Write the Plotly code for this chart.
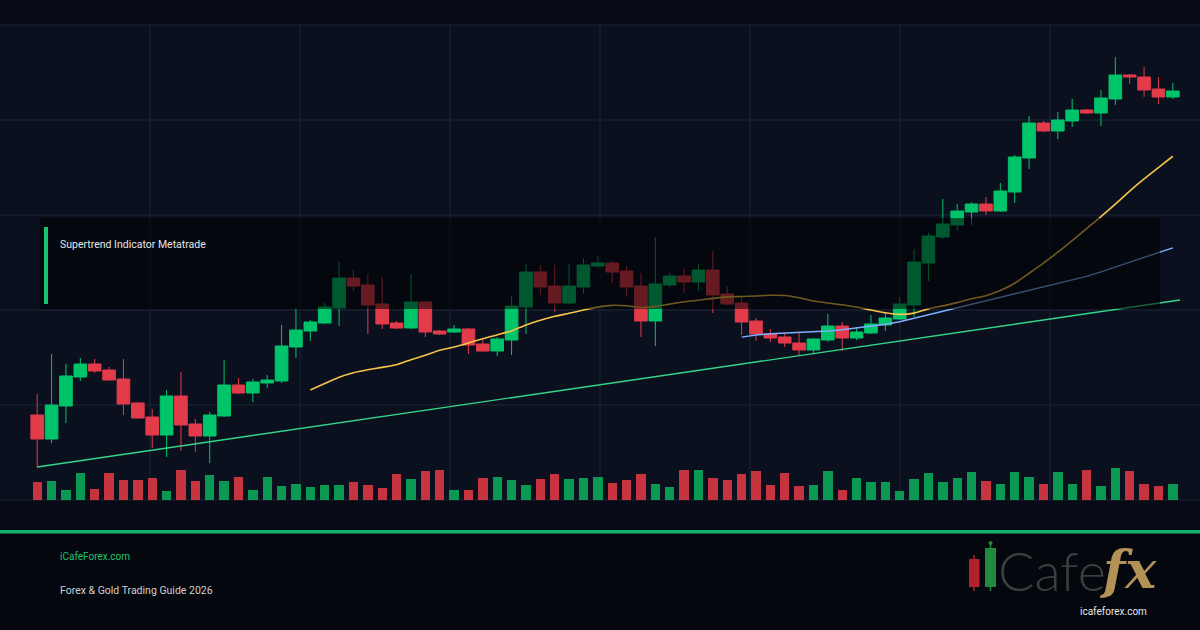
import plotly.graph_objects as go
import pandas as pd

# ---------------- data ----------------
idx = list(range(80))
open_ = [2085, 2061, 2094, 2123, 2136, 2130, 2121, 2097, 2083, 2065, 2104, 2076, 2064, 2084, 2115, 2107,
         2117, 2119, 2153, 2169, 2177, 2192, 2222, 2215, 2196, 2177, 2172, 2198, 2169, 2168, 2171, 2156,
         2149, 2160, 2193, 2228, 2214, 2197, 2213, 2234, 2237, 2229, 2214, 2179, 2215, 2224, 2218, 2230,
         2206, 2197, 2179, 2166, 2163, 2157, 2150, 2160, 2174, 2162, 2167, 2175, 2181, 2195, 2237, 2263,
         2275, 2288, 2296, 2289, 2308, 2342, 2377, 2369, 2379, 2390, 2387, 2401, 2425, 2423, 2411, 2403]
high = [2106, 2146, 2136, 2142, 2141, 2133, 2141, 2098, 2091, 2110, 2128, 2081, 2088, 2140, 2122, 2121,
        2125, 2175, 2191, 2180, 2197, 2238, 2230, 2226, 2223, 2179, 2226, 2199, 2170, 2175, 2172, 2161,
        2163, 2204, 2236, 2235, 2235, 2236, 2242, 2244, 2239, 2234, 2227, 2263, 2227, 2232, 2236, 2249,
        2214, 2203, 2182, 2171, 2167, 2167, 2162, 2186, 2178, 2173, 2185, 2187, 2203, 2251, 2267, 2301,
        2296, 2298, 2303, 2317, 2345, 2384, 2379, 2388, 2401, 2391, 2410, 2443, 2426, 2433, 2423, 2417]
low = [2032, 2057, 2077, 2119, 2127, 2119, 2085, 2081, 2052, 2043, 2049, 2048, 2037, 2083, 2106, 2098,
       2112, 2117, 2142, 2159, 2176, 2174, 2209, 2166, 2171, 2171, 2171, 2163, 2165, 2167, 2146, 2148,
       2144, 2145, 2166, 2205, 2188, 2196, 2206, 2232, 2217, 2203, 2163, 2154, 2213, 2207, 2209, 2187,
       2195, 2165, 2159, 2158, 2153, 2144, 2147, 2158, 2149, 2160, 2166, 2169, 2180, 2183, 2219, 2261,
       2269, 2275, 2285, 2288, 2297, 2331, 2368, 2361, 2373, 2386, 2374, 2395, 2416, 2403, 2396, 2401]
close = [2061, 2095, 2124, 2136, 2129, 2120, 2096, 2082, 2065, 2104, 2075, 2064, 2085, 2115, 2107, 2118,
         2120, 2154, 2170, 2178, 2193, 2222, 2214, 2195, 2176, 2172, 2198, 2168, 2166, 2171, 2155, 2149,
         2161, 2194, 2228, 2213, 2197, 2214, 2235, 2237, 2228, 2213, 2179, 2216, 2224, 2218, 2230, 2205,
         2196, 2178, 2166, 2162, 2157, 2150, 2161, 2174, 2162, 2168, 2176, 2182, 2196, 2238, 2264, 2276,
         2289, 2296, 2289, 2309, 2343, 2377, 2369, 2380, 2390, 2387, 2402, 2425, 2423, 2410, 2403, 2409]
volume = [18, 19, 10, 27, 11, 27, 20, 20, 22, 9, 30, 19, 25, 19, 23, 10,
          23, 14, 16, 13, 15, 15, 18, 15, 12, 26, 21, 29, 30, 10, 10, 22,
          23, 20, 15, 21, 26, 21, 22, 23, 17, 20, 26, 16, 13, 30, 30, 22,
          20, 26, 29, 15, 27, 14, 15, 29, 10, 22, 18, 18, 9, 21, 27, 18,
          22, 28, 19, 16, 28, 23, 16, 28, 16, 30, 14, 32, 29, 16, 14, 16]  # thousand lots

trend_x = [0, 79.5]
trend_y = [2033, 2200]

title_text = "Supertrend Indicator Metatrade"
site_text = "iCafeForex.com"
guide_text = "Forex & Gold Trading Guide 2026"

# indicators (simple moving averages of the close)
sma20 = pd.Series(close).rolling(20).mean()
sma50 = pd.Series(close).rolling(50).mean()

UP = "#00c46a"
DOWN = "#e23b4a"
VOL_UP = "#0a9852"
VOL_DOWN = "#c5343f"

W, H = 1200, 630


def fx(px):
    return px / W


def fy(py):
    return 1 - py / H


vol_colors = [VOL_UP if c >= o else VOL_DOWN for o, c in zip(open_, close)]

fig = go.Figure()

fig.add_trace(go.Bar(x=idx, y=volume, marker=dict(color=vol_colors, line=dict(width=0)),
                     width=0.65, yaxis="y2", hoverinfo="skip", showlegend=False))

fig.add_trace(go.Candlestick(
    x=idx, open=open_, high=high, low=low, close=close,
    increasing=dict(line=dict(color=UP, width=1), fillcolor=UP),
    decreasing=dict(line=dict(color=DOWN, width=1), fillcolor=DOWN),
    whiskerwidth=0, showlegend=False))

fig.add_trace(go.Scatter(x=trend_x, y=trend_y, mode="lines",
                         line=dict(color="#34d489", width=1.4), showlegend=False, hoverinfo="skip"))
fig.add_trace(go.Scatter(x=idx, y=sma50, mode="lines",
                         line=dict(color="#7fb0ff", width=1.4), showlegend=False, hoverinfo="skip"))
fig.add_trace(go.Scatter(x=idx, y=sma20, mode="lines", line_shape="spline",
                         line=dict(color="#f6c548", width=1.6, smoothing=0.6), showlegend=False, hoverinfo="skip"))

shapes = []
# chart panel background
shapes.append(dict(type="rect", xref="paper", yref="paper", x0=0, x1=1, y0=fy(500), y1=fy(25),
                   fillcolor="#0b101f", line=dict(width=0), layer="below"))
# footer background
shapes.append(dict(type="rect", xref="paper", yref="paper", x0=0, x1=1, y0=0, y1=fy(533),
                   fillcolor="#05070e", line=dict(width=0), layer="below"))
# grid
for py in [25, 120, 215, 310, 405, 500]:
    shapes.append(dict(type="line", xref="paper", yref="paper", x0=0, x1=1, y0=fy(py), y1=fy(py),
                       line=dict(color="#1d2435", width=1), layer="below"))
for px in [150, 300, 450, 600, 750, 900, 1050]:
    shapes.append(dict(type="line", xref="paper", yref="paper", x0=fx(px), x1=fx(px), y0=fy(500), y1=fy(25),
                       line=dict(color="#1d2435", width=1), layer="below"))
# green separator
shapes.append(dict(type="rect", xref="paper", yref="paper", x0=0, x1=1, y0=fy(533.5), y1=fy(530),
                   fillcolor="#10b26b", line=dict(width=0), layer="above"))
# title box overlay
shapes.append(dict(type="rect", xref="paper", yref="paper", x0=fx(40), x1=fx(1160), y0=fy(309), y1=fy(218),
                   fillcolor="rgba(0,0,0,0.55)", line=dict(width=0), layer="above"))
shapes.append(dict(type="rect", xref="paper", yref="paper", x0=fx(44), x1=fx(48), y0=fy(304), y1=fy(227),
                   fillcolor="#14c46f", line=dict(width=0), layer="above"))
# logo candles
shapes.append(dict(type="line", xref="paper", yref="paper", x0=fx(974), x1=fx(974), y0=fy(591), y1=fy(555),
                   line=dict(color="#b3222a", width=1.5), layer="above"))
shapes.append(dict(type="rect", xref="paper", yref="paper", x0=fx(969), x1=fx(979.5), y0=fy(587), y1=fy(559),
                   fillcolor="#b3222a", line=dict(width=0), layer="above"))
shapes.append(dict(type="line", xref="paper", yref="paper", x0=fx(990.5), x1=fx(990.5), y0=fy(591), y1=fy(543),
                   line=dict(color="#1f8c3d", width=1.5), layer="above"))
shapes.append(dict(type="circle", xref="paper", yref="paper", x0=fx(988.5), x1=fx(992.5), y0=fy(545), y1=fy(541),
                   fillcolor="#1f8c3d", line=dict(width=0), layer="above"))
shapes.append(dict(type="rect", xref="paper", yref="paper", x0=fx(985), x1=fx(996), y0=fy(587), y1=fy(548),
                   fillcolor="#1f8c3d", line=dict(width=0), layer="above"))

annotations = [
    dict(text=title_text, x=fx(58), y=fy(245), xref="paper", yref="paper", xanchor="left", yanchor="middle",
         showarrow=False, font=dict(family="Roboto", size=10.5, color="#e6e6e6")),
    dict(text=site_text, x=fx(58), y=fy(556), xref="paper", yref="paper", xanchor="left", yanchor="middle",
         showarrow=False, font=dict(family="Roboto", size=10, color="#1fc46f")),
    dict(text=guide_text, x=fx(58), y=fy(590), xref="paper", yref="paper", xanchor="left", yanchor="middle",
         showarrow=False, font=dict(family="Roboto", size=10.5, color="#cfcfcf")),
    dict(text="Cafe", x=fx(996), y=fy(570), xref="paper", yref="paper", xanchor="left", yanchor="middle",
         showarrow=False, font=dict(family="Lato", size=54, color="#3e3e3e", weight=300)),
    dict(text="<b><i>fx</i></b>", x=fx(1097), y=fy(569), xref="paper", yref="paper", xanchor="left",
         yanchor="middle", showarrow=False, font=dict(family="DejaVu Serif", size=52, color="#b39257")),
    dict(text="icafeforex.com", x=fx(1113), y=fy(611), xref="paper", yref="paper", xanchor="center",
         yanchor="middle", showarrow=False, font=dict(family="Roboto", size=10, color="#e6e6e6")),
]

fig.update_layout(
    width=W, height=H,
    margin=dict(l=0, r=0, t=0, b=0, pad=0),
    paper_bgcolor="#080b15",
    plot_bgcolor="rgba(0,0,0,0)",
    showlegend=False,
    boxgap=0.12, boxgroupgap=0,
    bargap=0,
    xaxis=dict(range=[-37.2 / 14.375, (1200 - 37.2) / 14.375], visible=False, showgrid=False,
               rangeslider=dict(visible=False), fixedrange=True),
    yaxis=dict(range=[1870, 2500], visible=False, showgrid=False, fixedrange=True),
    yaxis2=dict(range=[-130, 500], overlaying="y", visible=False, showgrid=False, fixedrange=True),
    shapes=shapes,
    annotations=annotations,
)

fig.write_html("out.html", config={"displayModeBar": False})
